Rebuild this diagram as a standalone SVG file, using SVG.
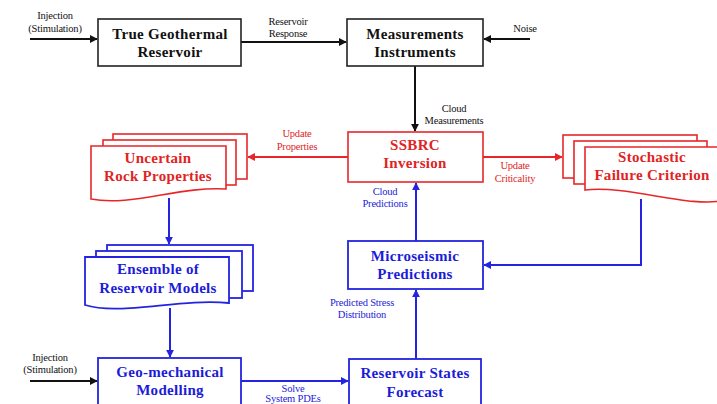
<svg xmlns="http://www.w3.org/2000/svg" width="717" height="404" viewBox="0 0 717 404">
<style>
.bk{fill:#fff;stroke:#222;stroke-width:1.6}
.rd{fill:#fff;stroke:#e8262a;stroke-width:1.6}
.bl{fill:#fff;stroke:#2424e0;stroke-width:1.8}
.t{font-family:"Liberation Serif","Times New Roman",serif;font-weight:bold;font-size:15px;letter-spacing:0.3px;text-anchor:middle}
.s{font-family:"Liberation Serif","Times New Roman",serif;font-size:10.5px;text-anchor:middle;letter-spacing:-0.2px}
.tk{fill:#111}.tr{fill:#e02424}.tb{fill:#1c1cd8}
.ck{stroke:#111;stroke-width:2;fill:none}
.cr{stroke:#e8262a;stroke-width:2;fill:none}
.cb{stroke:#2424e0;stroke-width:2;fill:none}
</style>
<defs>
<marker id="ak" viewBox="0 0 10 10" refX="9" refY="5" markerWidth="4" markerHeight="4" orient="auto"><path d="M0,0L10,5L0,10z" fill="#111"/></marker>
<marker id="ar" viewBox="0 0 10 10" refX="9" refY="5" markerWidth="4" markerHeight="4" orient="auto"><path d="M0,0L10,5L0,10z" fill="#e8262a"/></marker>
<marker id="ab" viewBox="0 0 10 10" refX="9" refY="5" markerWidth="4" markerHeight="4" orient="auto"><path d="M0,0L10,5L0,10z" fill="#2424e0"/></marker>
</defs>

<g id="connectors">
<line class="ck" x1="30" y1="39" x2="97" y2="39" marker-end="url(#ak)"/>
<line class="ck" x1="241" y1="42" x2="346" y2="42" marker-end="url(#ak)"/>
<line class="ck" x1="530" y1="39" x2="484" y2="39" marker-end="url(#ak)"/>
<line class="ck" x1="415" y1="66" x2="415" y2="131" marker-end="url(#ak)"/>
<line class="cr" x1="348" y1="157" x2="248" y2="157" marker-end="url(#ar)"/>
<line class="cr" x1="483" y1="157" x2="562" y2="157" marker-end="url(#ar)"/>
<line class="cb" x1="169" y1="198" x2="169" y2="244" marker-end="url(#ab)"/>
<line class="cb" x1="170" y1="308" x2="170" y2="357" marker-end="url(#ab)"/>
<line class="ck" x1="30" y1="381" x2="97" y2="381" marker-end="url(#ak)"/>
<line class="cb" x1="241" y1="381" x2="348" y2="381" marker-end="url(#ab)"/>
<line class="cb" x1="416" y1="359" x2="416" y2="290" marker-end="url(#ab)"/>
<line class="cb" x1="416" y1="241" x2="416" y2="183" marker-end="url(#ab)"/>
<polyline class="cb" points="641,199 641,265 484,265" marker-end="url(#ab)"/>
<text class="s tk" x="55" y="19">Injection</text>
<text class="s tk" x="55" y="32">(Stimulation)</text>
<text class="s tk" x="288" y="25">Reservoir</text>
<text class="s tk" x="288" y="37">Response</text>
<text class="s tk" x="525" y="32">Noise</text>
<text class="s tk" x="454" y="112">Cloud</text>
<text class="s tk" x="454" y="124">Measurements</text>
<text class="s tr" x="297" y="137">Update</text>
<text class="s tr" x="297" y="150">Properties</text>
<text class="s tr" x="515" y="169">Update</text>
<text class="s tr" x="515" y="182">Criticality</text>
<text class="s tb" x="385" y="195">Cloud</text>
<text class="s tb" x="385" y="207">Predictions</text>
<text class="s tb" x="362" y="306">Predicted Stress</text>
<text class="s tb" x="362" y="318">Distribution</text>
<text class="s tk" x="50" y="361">Injection</text>
<text class="s tk" x="50" y="373">(Stimulation)</text>
<text class="s tb" x="293" y="392">Solve</text>
<text class="s tb" x="293" y="402">System PDEs</text>
</g>

<g id="true-reservoir">
<rect class="bk" x="98" y="19" width="143" height="47"/>
<text class="t tk" x="170" y="39">True Geothermal</text>
<text class="t tk" x="170" y="57">Reservoir</text>
</g>

<g id="measurements">
<rect class="bk" x="347" y="19" width="136" height="47"/>
<text class="t tk" x="415" y="39">Measurements</text>
<text class="t tk" x="415" y="57">Instruments</text>
</g>

<g id="ssbrc">
<rect class="rd" x="348" y="132" width="135" height="50"/>
<text class="t tr" x="415" y="150">SSBRC</text>
<text class="t tr" x="415" y="168">Inversion</text>
</g>

<g id="uncertain">
<rect class="rd" x="113" y="134" width="134" height="45"/>
<rect class="rd" x="103" y="140" width="133" height="45"/>
<path class="rd" d="M91,146H226V189C180,186 130,207 91,199Z"/>
<text class="t tr" x="158" y="163">Uncertain</text>
<text class="t tr" x="158" y="181">Rock Properties</text>
</g>

<g id="stochastic">
<rect class="rd" x="563" y="135" width="134" height="43"/>
<rect class="rd" x="574" y="141" width="133" height="43"/>
<path class="rd" d="M585,147H726V200C690,209 630,185 585,190Z"/>
<text class="t tr" x="652" y="162">Stochastic</text>
<text class="t tr" x="652" y="180">Failure Criterion</text>
</g>

<g id="ensemble">
<rect class="bl" x="107" y="245" width="146" height="46"/>
<rect class="bl" x="96" y="251" width="146" height="47"/>
<path class="bl" d="M85,257H229V303C180,298 120,316 85,305Z"/>
<text class="t tb" x="158" y="274">Ensemble of</text>
<text class="t tb" x="158" y="293">Reservoir Models</text>
</g>

<g id="microseismic">
<rect class="bl" x="348" y="241" width="135" height="48"/>
<text class="t tb" x="415" y="261">Microseismic</text>
<text class="t tb" x="415" y="279">Predictions</text>
</g>

<g id="geomechanical">
<rect class="bl" x="98" y="358" width="143" height="60"/>
<text class="t tb" x="170" y="377">Geo-mechanical</text>
<text class="t tb" x="170" y="395">Modelling</text>
</g>

<g id="reservoir-states">
<rect class="bl" x="349" y="359" width="132" height="60"/>
<text class="t tb" x="415" y="378">Reservoir States</text>
<text class="t tb" x="415" y="397">Forecast</text>
</g>
</svg>
